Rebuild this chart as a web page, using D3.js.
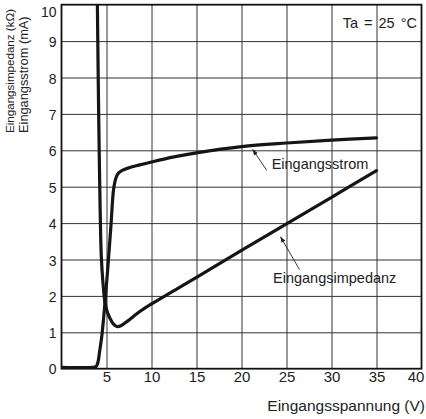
<!DOCTYPE html>
<html>
<head>
<meta charset="utf-8">
<script src="https://cdn.jsdelivr.net/npm/d3@7"></script>
<style>
  html, body { margin: 0; padding: 0; background: #fff; }
  svg { display: block; font-family: "Liberation Sans", Arial, Helvetica, sans-serif; }
</style>
</head>
<body>
<svg id="chart" width="426" height="419"></svg>
<script>
// Input voltage (V) vs. input current (mA) and input impedance (kOhm), Ta = 25 °C
const xTicks = [5, 10, 15, 20, 25, 30, 35, 40];
const yTicks = [0, 1, 2, 3, 4, 5, 6, 7, 8, 9, 10];

// Input current curve (mA)
const currentVolt = [0, 3.5, 3.85, 4.05, 4.25, 4.47, 4.83, 5.2, 5.5, 5.8, 6.08, 6.35, 6.75, 7.5, 8.7, 10, 12.5, 15, 20, 25, 30, 35];
const currentMA   = [0.04, 0.04, 0.06, 0.18, 0.5, 0.88, 1.81, 2.95, 3.95, 4.95, 5.26, 5.38, 5.45, 5.52, 5.6, 5.68, 5.82, 5.93, 6.1, 6.2, 6.28, 6.34];

// Input impedance curve (kOhm)
const impedVolt = [3.97, 4.05, 4.12, 4.2, 4.3, 4.42, 4.58, 4.83, 5.1, 5.4, 5.75, 6.15, 6.6, 7.3, 8.7, 10, 15, 20, 25, 30, 35];
const impedKOhm = [10.4, 8.6, 7.2, 5.8, 4.3, 3.1, 2.45, 1.82, 1.55, 1.38, 1.23, 1.16, 1.18, 1.3, 1.57, 1.78, 2.51, 3.25, 3.98, 4.71, 5.44];

const svg = d3.select("#chart");
const plotL = 61.5, plotR = 421.5, plotT = 4.7, plotB = 368.7;
const W = plotR - plotL, H = plotB - plotT;

const x = d3.scaleLinear().domain([0, 40]).range([plotL, plotR]);
const y = d3.scaleLinear().domain([0, 10]).range([plotB, plotT]);

// grid
svg.append("g")
  .attr("transform", `translate(0,${plotB})`)
  .call(d3.axisBottom(x).tickValues(xTicks.filter(v => v < 40)).tickSize(-H).tickFormat(""))
  .call(g => g.select(".domain").remove())
  .call(g => g.selectAll("line").attr("stroke", "#333").attr("stroke-width", 1));

svg.append("g")
  .attr("transform", `translate(${plotL},0)`)
  .call(d3.axisLeft(y).tickValues(yTicks.filter(v => v > 0 && v < 10)).tickSize(-W).tickFormat(""))
  .call(g => g.select(".domain").remove())
  .call(g => g.selectAll("line").attr("stroke", "#333").attr("stroke-width", 1));

// frame
svg.append("rect")
  .attr("x", plotL).attr("y", plotT).attr("width", W).attr("height", H)
  .attr("fill", "none").attr("stroke", "#111").attr("stroke-width", 1.8);

// tick labels
svg.append("g")
  .attr("transform", `translate(0,${plotB})`)
  .call(d3.axisBottom(x).tickValues(xTicks).tickSize(0).tickPadding(3))
  .call(g => g.select(".domain").remove())
  .call(g => g.selectAll("text").attr("font-size", 15).attr("fill", "#222")
    .attr("font-family", "Liberation Sans, Arial, sans-serif")
    .attr("dx", d => d === 40 ? -6 : 0));

svg.append("g")
  .attr("transform", `translate(${plotL},0)`)
  .call(d3.axisLeft(y).tickValues(yTicks).tickSize(0).tickPadding(5))
  .call(g => g.select(".domain").remove())
  .call(g => g.selectAll("text").attr("font-size", 14).attr("fill", "#222")
    .attr("font-family", "Liberation Sans, Arial, sans-serif")
    .attr("transform", d => `translate(0,${d === 10 ? 7.5 : (d === 0 ? 0 : 1.2)})`));

// curves
svg.append("clipPath").attr("id", "plotClip")
  .append("rect").attr("x", plotL).attr("y", plotT).attr("width", W).attr("height", H);

const line = d3.line()
  .x(d => x(d[0]))
  .y(d => y(d[1]))
  .curve(d3.curveCatmullRom.alpha(0.5));

const curves = svg.append("g").attr("clip-path", "url(#plotClip)");
curves.append("path")
  .datum(currentVolt.map((v, i) => [v, currentMA[i]]))
  .attr("d", line)
  .attr("fill", "none").attr("stroke", "#151515").attr("stroke-width", 3.2)
  .attr("stroke-linejoin", "round").attr("stroke-linecap", "round");
curves.append("path")
  .datum(impedVolt.map((v, i) => [v, impedKOhm[i]]))
  .attr("d", line)
  .attr("fill", "none").attr("stroke", "#151515").attr("stroke-width", 3.2)
  .attr("stroke-linejoin", "round").attr("stroke-linecap", "round");

// callouts
svg.append("defs").append("marker")
  .attr("id", "arrowHead").attr("viewBox", "0 0 10 10")
  .attr("refX", 9).attr("refY", 5)
  .attr("markerWidth", 7).attr("markerHeight", 7)
  .attr("orient", "auto")
  .append("path").attr("d", "M0,1.5 L10,5 L0,8.5 Z").attr("fill", "#222");

function callout(tail, head, labelAt, text) {
  svg.append("line")
    .attr("x1", x(tail[0])).attr("y1", y(tail[1]))
    .attr("x2", x(head[0])).attr("y2", y(head[1]))
    .attr("stroke", "#222").attr("stroke-width", 0.9)
    .attr("marker-end", "url(#arrowHead)");
  svg.append("text")
    .attr("x", x(labelAt[0])).attr("y", y(labelAt[1]))
    .attr("font-size", 14.5).attr("fill", "#222")
    .text(text);
}
callout([22.8, 5.45], [21.25, 6.02], [23.35, 5.5], "Eingangsstrom");
callout([26.45, 2.72], [24.35, 3.62], [23.5, 2.35], "Eingangsimpedanz");

// condition label
svg.append("text")
  .attr("x", 417).attr("y", 28)
  .attr("text-anchor", "end")
  .attr("font-size", 14.5).attr("fill", "#222")
  .attr("word-spacing", 2)
  .text("Ta = 25 °C");

// axis titles
svg.append("text")
  .attr("x", 425).attr("y", 411)
  .attr("text-anchor", "end")
  .attr("font-size", 15.5).attr("fill", "#222")
  .text("Eingangsspannung (V)");

const yTitle = svg.append("g").attr("fill", "#222");
yTitle.append("text")
  .attr("transform", "translate(14,133) rotate(-90)")
  .attr("font-size", 11.6)
  .text("Eingangsimpedanz (kΩ)");
yTitle.append("text")
  .attr("transform", "translate(27.5,133) rotate(-90)")
  .attr("font-size", 12.8)
  .text("Eingangsstrom (mA)");
</script>
</body>
</html>
